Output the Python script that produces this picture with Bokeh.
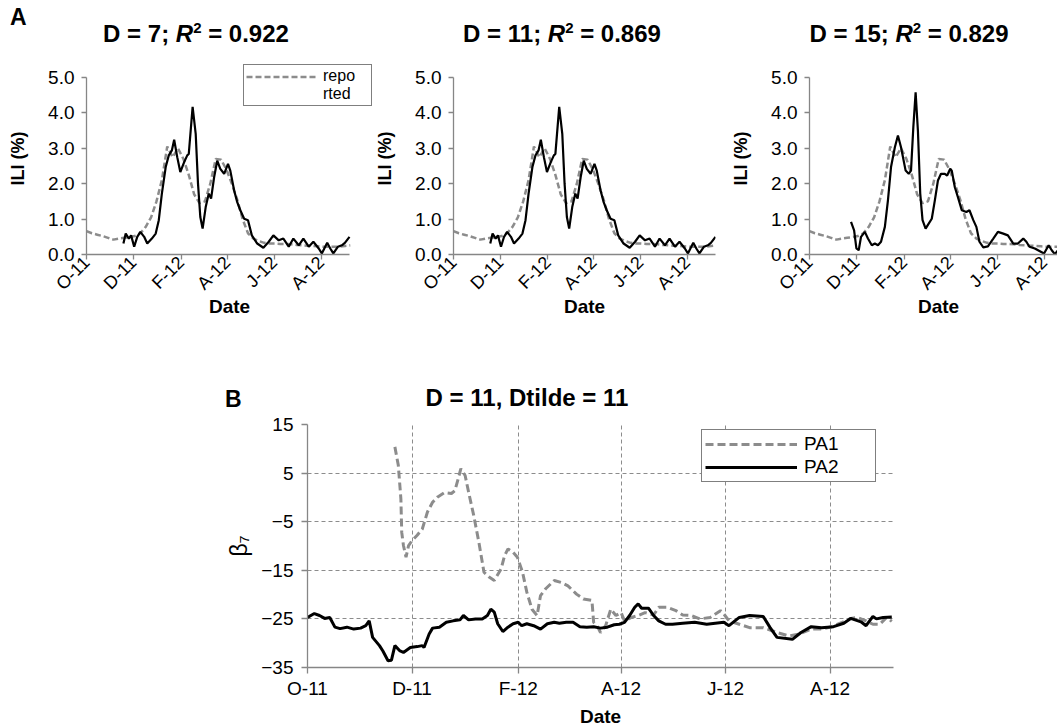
import datetime as dt
from math import pi

from bokeh.plotting import figure
from bokeh.layouts import column, row
from bokeh.models import Legend, LegendItem, FixedTicker, Range1d, NumeralTickFormatter, Div
from bokeh.embed import file_html
from bokeh.resources import INLINE

# ---------------- data ----------------
START = dt.date(2011, 10, 1)
tick_dates = ["2011-10-01", "2011-12-01", "2012-02-01", "2012-04-01", "2012-06-01", "2012-08-01"]
tick_labels = ["O-11", "D-11", "F-12", "A-12", "J-12", "A-12"]
END_DAY = 342  # ~7 Sep 2012

# reported ILI (%), weekly, days since START
reported_days = list(range(0, 344, 7))
reported_ili = [0.66, 0.60, 0.56, 0.52, 0.47, 0.42, 0.45, 0.47, 0.49, 0.52,
                0.60, 0.78, 1.05, 1.50, 2.10, 3.05, 2.75, 3.00, 2.70, 2.25,
                1.70, 1.45, 1.50, 2.00, 2.70, 2.68, 2.40, 2.00, 1.55, 1.00,
                0.60, 0.45, 0.38, 0.33, 0.31, 0.31, 0.30, 0.30, 0.29, 0.27,
                0.26, 0.25, 0.24, 0.23, 0.22, 0.22, 0.22, 0.22, 0.24, 0.26]

# estimated ILI, D = 7
est7_days = [48, 51, 55, 58, 62, 66, 70, 75, 79, 85, 90, 94, 98, 103, 107, 111, 114, 118, 122, 127,
             131, 133, 138, 142, 145, 148, 151, 155, 159, 162, 166, 170, 174, 179, 184, 187, 192, 196,
             200, 205, 210, 215, 222, 230, 237, 243, 250, 256, 263, 269, 276, 282, 289, 295, 302, 306,
             313, 317, 321, 327, 332, 336, 342]
est7_vals = [0.31, 0.59, 0.45, 0.54, 0.22, 0.50, 0.64, 0.50, 0.31, 0.45, 0.59, 0.97, 1.72, 2.47, 2.80,
             2.94, 3.24, 2.75, 2.33, 2.61, 2.80, 2.84, 4.17, 3.41, 2.00, 1.06, 0.73, 1.34, 1.72, 1.58,
             2.19, 2.65, 2.42, 2.28, 2.56, 2.37, 1.81, 1.48, 1.25, 1.01, 0.97, 0.54, 0.31, 0.19, 0.36,
             0.54, 0.40, 0.45, 0.22, 0.45, 0.26, 0.45, 0.22, 0.36, 0.17, 0.03, 0.33, 0.17, 0.03, 0.22,
             0.26, 0.33, 0.50]

# estimated ILI, D = 11 (reads the same as D = 7 at this resolution)
est11_days = list(est7_days)
est11_vals = list(est7_vals)

# estimated ILI, D = 15
est15_days = [54, 58, 61, 64, 67, 72, 76, 81, 85, 89, 93, 98, 102, 106, 111, 115, 119, 125, 129, 132,
              135, 138, 141, 144, 147, 151, 155, 159, 163, 167, 171, 176, 179, 183, 185, 189, 193, 198,
              204, 208, 213, 217, 221, 226, 232, 239, 245, 252, 258, 265, 271, 278, 282, 286, 293, 299,
              305, 311, 315, 319, 325, 332, 336, 342]
est15_vals = [0.92, 0.68, 0.17, 0.12, 0.50, 0.64, 0.45, 0.26, 0.31, 0.26, 0.36, 0.78, 1.53, 2.47, 3.03,
              3.36, 3.03, 2.37, 2.28, 2.37, 3.59, 4.58, 3.49, 1.72, 0.97, 0.73, 0.87, 1.01, 1.53, 2.09,
              2.28, 2.28, 2.23, 2.42, 2.37, 1.90, 1.62, 1.25, 1.20, 1.25, 0.97, 0.78, 0.36, 0.20, 0.23,
              0.45, 0.64, 0.59, 0.54, 0.31, 0.31, 0.45, 0.36, 0.22, 0.17, 0.10, 0.03, 0.26, 0.12, 0.01,
              0.17, 0.26, 0.31, 0.35]

# beta_7 coefficients (panel B)
pa1_days = [51, 53, 54.5, 55, 56, 57.5, 59, 61, 64, 67, 70, 73, 76, 80, 84, 86, 88, 89.5, 92, 94,
            97, 100, 103, 106, 109, 113, 115, 117, 120, 122.5, 125.5, 128, 131, 134, 136, 139, 144,
            148, 152, 157, 161, 166, 167, 169, 171, 174, 177, 180, 183, 185, 189, 193, 197, 202, 205,
            210, 215, 219, 224, 229, 235, 241, 243, 246, 252, 258, 266, 274, 281, 287, 294, 300, 306,
            312, 317, 321, 326, 330, 334, 338, 341]
pa1_vals = [10.4, 6.6, -0.3, -7.2, -9.9, -12.3, -9.9, -8.9, -7.8, -6.5, -3.0, -1.0, 0.1, 1.0, 0.8,
            1.4, 3.9, 5.9, 4.5, 1.1, -3.7, -9.2, -15.4, -16.4, -17.1, -14.7, -12.0, -10.6, -11.3, -12.3,
            -15.4, -19.5, -23.0, -24.3, -20.2, -18.8, -17.1, -17.5, -18.2, -19.9, -20.9, -21.2, -25.7,
            -26.4, -27.8, -26.4, -23.0, -24.3, -23.7, -25.4, -24.7, -24.3, -23.7, -24.2, -22.6, -22.6,
            -23.3, -24.2, -24.3, -25.0, -24.7, -23.3, -24.0, -25.4, -26.1, -26.8, -26.8, -27.8, -28.5,
            -28.1, -27.1, -27.1, -26.6, -25.7, -24.9, -24.7, -25.4, -26.1, -26.1, -24.7, -25.5]
pa2_days = [0, 4, 7, 10, 13, 16, 19, 23, 27, 31, 34, 36, 38, 42, 44, 47, 49, 51, 54, 56, 60, 64, 67,
            68, 71, 73, 77, 81, 85, 89, 91, 94, 98, 102, 105, 107, 109, 111, 114, 117, 120, 123, 125,
            128, 132, 136, 140, 144, 147, 151, 155, 159, 163, 167, 171, 175, 179, 182, 185, 188, 191,
            193, 195, 199, 202, 205, 209, 213, 219, 226, 233, 243, 246, 252, 258, 266, 270, 274, 283,
            288, 294, 300, 307, 313, 317, 323, 326, 330, 332, 336, 341]
pa2_vals = [-24.7, -23.9, -24.3, -24.9, -24.7, -26.7, -27.0, -26.7, -27.1, -26.9, -26.4, -25.4, -28.8,
            -30.5, -31.6, -33.6, -33.5, -30.5, -31.6, -31.9, -30.9, -30.7, -30.5, -30.9, -28.1, -26.9,
            -26.7, -25.7, -25.4, -25.2, -24.3, -25.2, -25.0, -25.0, -24.3, -23.0, -23.6, -26.0, -27.6,
            -26.7, -26.0, -25.7, -26.4, -26.0, -26.4, -27.1, -26.0, -25.7, -25.9, -25.7, -25.7, -26.6,
            -26.7, -26.6, -26.9, -26.7, -26.2, -26.1, -25.7, -24.3, -22.6, -21.9, -22.8, -22.8, -24.3,
            -25.4, -26.1, -26.1, -25.9, -25.7, -26.1, -25.7, -26.4, -24.7, -24.3, -24.5, -26.8, -28.8,
            -29.2, -27.8, -26.6, -26.8, -26.6, -25.9, -24.9, -25.6, -26.4, -24.5, -25.0, -24.7, -24.6]

ili_ticks = [0, 1, 2, 3, 4, 5]
beta_ticks = [-35, -25, -15, -5, 5, 15]

panel_titles = [("D = 7;", "0.922"), ("D = 11;", "0.869"), ("D = 15;", "0.829")]
title_b = "D = 11, Dtilde = 11"

# ---------------- styling ----------------
FONT = "Liberation Sans"
GRAY = "#8c8c8c"
AXIS_GRAY = "#868686"
tick_days = [(dt.date.fromisoformat(d) - START).days for d in tick_dates]
overrides = {d: lab for d, lab in zip(tick_days, tick_labels)}

Y_TOP = 5 / ((254 - 77) / (254 - 62))  # frame reaches a bit above 5.0 so the legend fits


def style_axes(p, tick_size, label_size):
    for ax in (p.xaxis[0], p.yaxis[0]):
        ax.axis_line_color = AXIS_GRAY
        ax.axis_line_width = 1.3
        ax.major_tick_line_color = AXIS_GRAY
        ax.major_tick_line_width = 1.3
        ax.major_tick_in = 0
        ax.major_tick_out = 5
        ax.minor_tick_line_color = None
        ax.major_label_text_font = FONT
        ax.major_label_text_font_size = tick_size
        ax.major_label_text_color = "black"
        ax.axis_label_text_font = FONT
        ax.axis_label_text_font_size = label_size
        ax.axis_label_text_color = "black"
    p.xaxis.ticker = FixedTicker(ticks=tick_days, minor_ticks=[])
    p.xaxis.major_label_overrides = overrides


def ili_panel(bl, fw, br, x_end, est_days, est_vals):
    p = figure(width=bl + fw + br, height=320, frame_width=fw, frame_height=192,
               min_border_left=bl, min_border_right=br, min_border_top=17, min_border_bottom=111,
               x_range=Range1d(0, x_end), y_range=Range1d(0, Y_TOP),
               output_backend="svg", toolbar_location=None)
    p.outline_line_color = None
    p.grid.visible = False
    p.background_fill_color = "white"
    p.border_fill_color = "white"
    style_axes(p, "19px", "18px")
    p.xaxis.major_label_text_font_size = "18px"
    p.yaxis.ticker = FixedTicker(ticks=ili_ticks, minor_ticks=[])
    p.yaxis.formatter = NumeralTickFormatter(format="0.0")
    p.yaxis.bounds = (0, 5)
    p.xaxis.bounds = (0, min(x_end, END_DAY))
    p.yaxis.axis_label = "ILI (%)"
    p.yaxis.axis_label_text_font_style = "bold"
    p.yaxis.major_label_standoff = 7
    p.yaxis.axis_label_standoff = 17
    p.xaxis.axis_label = "Date"
    p.xaxis.axis_label_text_font_size = "19px"
    p.xaxis.axis_label_text_font_style = "bold"
    p.xaxis.major_label_orientation = pi / 4
    p.xaxis.major_label_standoff = 0
    p.xaxis.axis_label_standoff = -8

    r_rep = p.line(reported_days, reported_ili, line_color=GRAY, line_width=2.5, line_dash="6 3")
    p.line(est_days, est_vals, line_color="black", line_width=2.2)
    return p, r_rep


p1, rep1 = ili_panel(86, 286, 0, END_DAY * 286 / 263, est7_days, est7_vals)
p2, _ = ili_panel(71, 262, 13, END_DAY, est11_days, est11_vals)
p3, _ = ili_panel(80, 258, 0, END_DAY * 258 / 263, est15_days, est15_vals)

blank = p1.line([0], [0], line_alpha=0)
leg1 = Legend(items=[LegendItem(label="repo", renderers=[rep1]), LegendItem(label="rted", renderers=[blank])],
              location=(157, 148), orientation="vertical",
              label_text_font=FONT, label_text_font_size="16px", label_text_color="black",
              glyph_width=72, glyph_height=17, label_height=17, label_width=46, label_standoff=5,
              padding=2, spacing=0, margin=0,
              border_line_color="black", border_line_width=1.5,
              background_fill_color="white", background_fill_alpha=1.0)
p1.add_layout(leg1)

# ---------------- headings (HTML text) ----------------
FONT_CSS = "font-family:'Liberation Sans',Arial,sans-serif;font-weight:bold;color:#000;"


def span(left, top, size, html, center=False):
    tr = "transform:translateX(-50%);" if center else ""
    return (f'<span style="position:absolute;left:{left}px;top:{top}px;font-size:{size}px;'
            f'line-height:1;white-space:nowrap;{tr}">{html}</span>')


def r2_title(d_txt, r2):
    return (f'{d_txt} <i>R</i><span style="font-size:15px;vertical-align:9px">2</span> = {r2}')


title_centers = [196, 562, 909]
top_html = f'<div style="position:relative;width:1056px;height:45px;{FONT_CSS}">'
top_html += span(10, 6, 23, "A")
for (d_txt, r2), cx in zip(panel_titles, title_centers):
    top_html += span(cx, 20, 24, r2_title(d_txt, r2), center=True)
top_html += "</div>"
div_top = Div(text=top_html, width=1056, height=45, margin=(0, 0, 0, 0))

b_html = f'<div style="position:relative;width:1056px;height:45px;{FONT_CSS}">'
b_html += span(225, 23, 23, "B")
b_html += span(527, 21, 24, title_b, center=True)
b_html += "</div>"
div_b = Div(text=b_html, width=1056, height=45, margin=(0, 0, 0, 0))

# ---------------- panel B ----------------
pb = figure(width=1056, height=318, frame_width=586, frame_height=243,
            min_border_left=307, min_border_right=163, min_border_top=14, min_border_bottom=61,
            x_range=Range1d(0, END_DAY), y_range=Range1d(-35, 15),
            output_backend="svg", toolbar_location=None)
pb.outline_line_color = None
pb.background_fill_color = "white"
pb.border_fill_color = "white"
style_axes(pb, "19px", "19px")
pb.xaxis.major_tick_out = 6
pb.yaxis.major_tick_out = 6
pb.yaxis.ticker = FixedTicker(ticks=beta_ticks, minor_ticks=[])
pb.yaxis.axis_label = "β₇"
pb.yaxis.axis_label_text_font_size = "23px"
pb.yaxis.axis_label_text_font_style = "normal"
pb.yaxis.major_label_standoff = 8
pb.yaxis.axis_label_standoff = 6
pb.xaxis.axis_label = "Date"
pb.xaxis.axis_label_text_font_style = "bold"
pb.xaxis.major_label_standoff = 4
pb.xaxis.axis_label_standoff = 4
pb.xgrid.ticker = FixedTicker(ticks=tick_days[1:])
pb.ygrid.ticker = FixedTicker(ticks=beta_ticks)
for g in (pb.xgrid[0], pb.ygrid[0]):
    g.grid_line_color = GRAY
    g.grid_line_dash = "4 3"
    g.grid_line_width = 1

r_pa1 = pb.line(pa1_days, pa1_vals, line_color=GRAY, line_width=3, line_dash="8 4")
r_pa2 = pb.line(pa2_days, pa2_vals, line_color="black", line_width=3)

leg2 = Legend(items=[LegendItem(label="PA1", renderers=[r_pa1]), LegendItem(label="PA2", renderers=[r_pa2])],
              location=(394, 185), orientation="vertical",
              label_text_font=FONT, label_text_font_size="19px", label_text_color="black",
              glyph_width=92, glyph_height=18, label_height=18, label_width=68, label_standoff=7,
              padding=3, spacing=1, margin=0,
              border_line_color="black", border_line_width=1.5,
              background_fill_color="white", background_fill_alpha=1.0)
pb.add_layout(leg2)

layout = column(div_top, row(p1, p2, p3), div_b, pb)
open("out.html", "w").write(file_html(layout, INLINE))
